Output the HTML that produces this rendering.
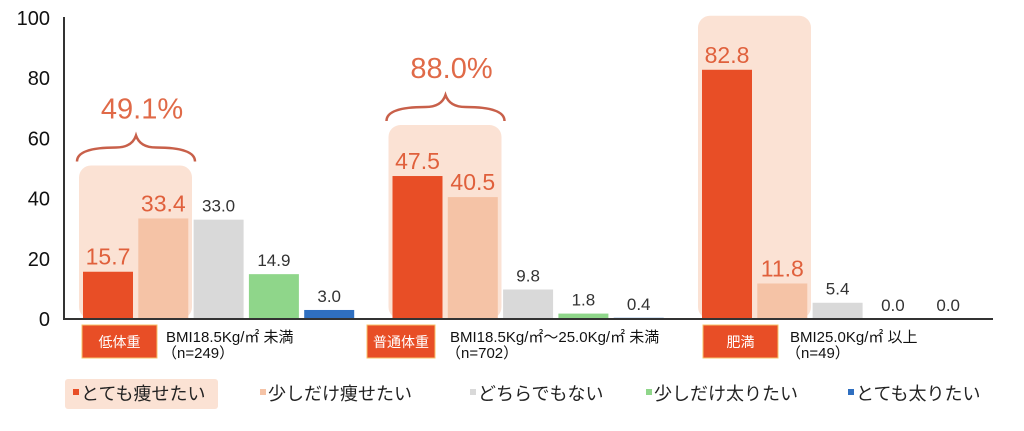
<!DOCTYPE html>
<html><head><meta charset="utf-8"><style>
body{margin:0;background:#fff;width:1024px;height:426px;overflow:hidden;font-family:"Liberation Sans","Noto Sans CJK JP",sans-serif}
</style></head><body>
<svg width="1024" height="426" xmlns="http://www.w3.org/2000/svg" font-family="Liberation Sans, Noto Sans CJK JP, sans-serif">
<g id="hl"></g><g id="bars"></g><g id="axes"></g><g id="labels"></g><g id="cats"></g><g id="legend"></g>
</svg>
<script>
const groups = ["低体重","普通体重","肥満"];
const groupDesc = ["BMI18.5Kg/㎡ 未満","BMI18.5Kg/㎡～25.0Kg/㎡ 未満","BMI25.0Kg/㎡ 以上"];
const groupN = ["（n=249）","（n=702）","（n=49）"];
const seriesNames = ["とても痩せたい","少しだけ痩せたい","どちらでもない","少しだけ太りたい","とても太りたい"];
const s1 = [15.7,47.5,82.8];
const s2 = [33.4,40.5,11.8];
const s3 = [33.0,9.8,5.4];
const s4 = [14.9,1.8,0.0];
const s5 = [3.0,0.4,0.0];
const totals = ["49.1%","88.0%",""];
const yTicks = [0,20,40,60,80,100];
const series=[s1,s2,s3,s4,s5];
const colors=["#e84e26","#f5c3a6","#d9d9d9","#8fd68a","#2f6fc0"];
const NS="http://www.w3.org/2000/svg";
const y=v=>319-v*3.01;
const gx=g=>83+g*309.5;
const bx=(g,s)=>gx(g)+s*55.3;
const BW=50;
function mk(p,t,a,txt){const e=document.createElementNS(NS,t);for(const k in a)e.setAttribute(k,a[k]);if(txt!==undefined)e.textContent=txt;document.getElementById(p).appendChild(e);return e;}
let e=mk("axes","line",{x1:64,y1:17,x2:64,y2:319,stroke:"#333","stroke-width":2});


e=mk("axes","line",{x1:63,y1:319,x2:993,y2:319,stroke:"#333","stroke-width":2});


yTicks.forEach(t=>{const l=mk("axes","text",{x:50,y:y(t)+7,"text-anchor":"end","font-size":20,fill:"#111"},t);

});
groups.forEach((g,gi)=>{
 const top=Math.max(s1[gi],s2[gi]);
 const hy=y(top)-(gi==2?54:gi==1?51:53);
 const h=mk("hl","rect",{x:gx(gi)-4,y:hy,width:113,height:319-hy,rx:12,fill:"#fbe2d4"});
 
 
 if(totals[gi]){
  const bxL=gx(gi)-6,bxR=gx(gi)+112,mid=(bxL+bxR)/2,b=hy-4,t=b-26;
  const br=mk("hl","path",{d:`M${bxL},${b} Q${bxL},${t+12} ${mid-20},${t+12} Q${mid-4},${t+12} ${mid},${t} Q${mid+4},${t+12} ${mid+20},${t+12} Q${bxR},${t+12} ${bxR},${b}`,fill:"none",stroke:"#c8604a","stroke-width":2.5});
  
  
  const tl=mk("labels","text",{x:mid+6,y:t-17,"text-anchor":"middle","font-size":29,fill:"#e06a48"},totals[gi]);
  
  
 }
 series.forEach((s,si)=>{
  const v=s[gi];
  if(v>0){const r=mk("bars","rect",{x:bx(gi,si),y:y(v),width:BW,height:319-y(v),fill:colors[si]});
  
  }
  const big=si<2;
  const vl=mk("labels","text",{x:bx(gi,si)+BW/2,y:y(v)-(big?7:8),"text-anchor":"middle","font-size":big?23:17,fill:big?"#e0603c":"#333"},v.toFixed(1));
  
  
 });
});
const boxX=[82,367,703],boxW=[75,68,75],txtX=[166,450,790];
groups.forEach((g,gi)=>{
 const r=mk("cats","rect",{x:boxX[gi],y:325,width:boxW[gi],height:33,fill:"#e84e26",stroke:"#f7c36a","stroke-width":1});
 
 
 const t=mk("cats","text",{x:boxX[gi]+boxW[gi]/2,y:347,"text-anchor":"middle","font-size":14,fill:"#fff"},g);
 
 
 const d=mk("cats","text",{x:txtX[gi],y:342,"font-size":15,fill:"#111"},groupDesc[gi]);
 
 
 const n=mk("cats","text",{x:txtX[gi]-4,y:358,"font-size":15,fill:"#111"},groupN[gi]);
 
 
});
const lx=[73,260,470,646,848];
const hb=mk("legend","rect",{x:65,y:379,width:153,height:30,rx:3,fill:"#fbe2d4"});


seriesNames.forEach((n,i)=>{
 const m=mk("legend","rect",{x:lx[i],y:389,width:6,height:6,fill:colors[i]});
 
 
 const t=mk("legend","text",{x:lx[i]+8,y:400,"font-size":18,fill:"#222"},n);
 
 
});
</script>
</body></html>
